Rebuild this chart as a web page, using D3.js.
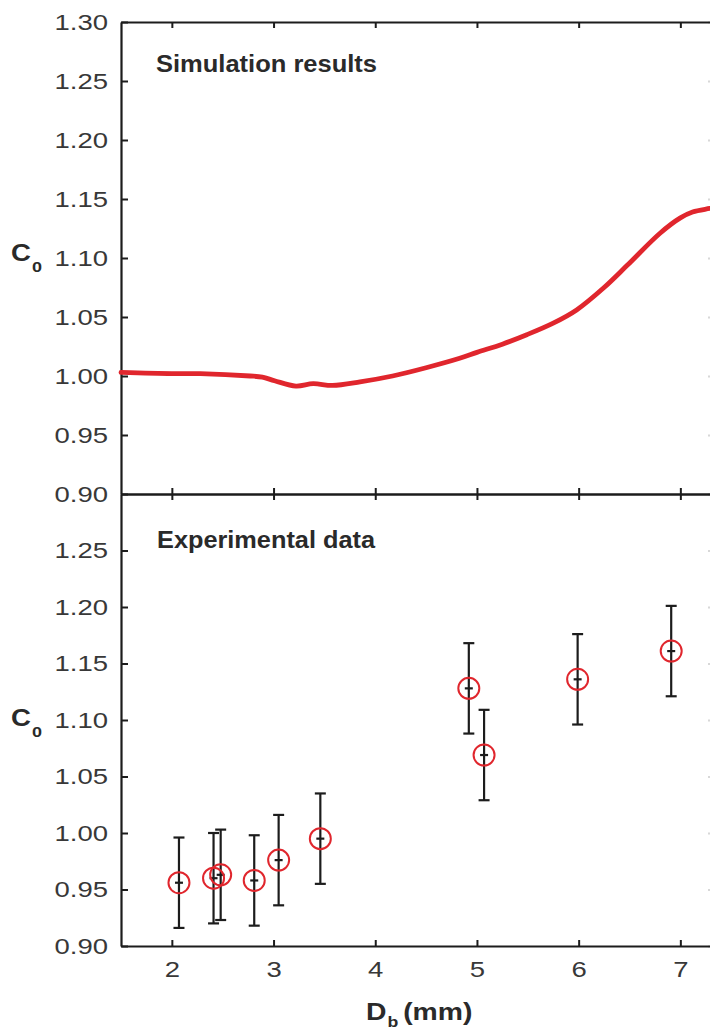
<!DOCTYPE html>
<html><head><meta charset="utf-8">
<script src="https://cdn.jsdelivr.net/npm/d3@7"></script>
<style>body{margin:0;background:#fff} svg{display:block}</style>
</head><body><svg id="c" width="710" height="1031"></svg>
<script>
// ---- data ----
const xTicks = [2, 3, 4, 5, 6, 7];
const yTicksTop = [0.90, 0.95, 1.00, 1.05, 1.10, 1.15, 1.20, 1.25, 1.30];
const yTicksBottom = [0.90, 0.95, 1.00, 1.05, 1.10, 1.15, 1.20, 1.25];
const simD = [1.5, 2.0, 2.28, 2.77, 2.89, 3.01, 3.22, 3.39, 3.58, 3.85, 4.17, 4.5, 4.83, 5.0, 5.25, 5.49, 5.75, 5.98, 6.25, 6.48, 6.80, 7.00, 7.12, 7.29, 7.5];
const simC = [1.003, 1.002, 1.002, 1.000, 0.999, 0.996, 0.9915, 0.9935, 0.992, 0.995, 1.000, 1.007, 1.015, 1.020, 1.027, 1.035, 1.0448, 1.056, 1.075, 1.094, 1.121, 1.134, 1.139, 1.142, 1.145];
const expD = [2.07, 2.41, 2.48, 2.81, 3.05, 3.46, 4.92, 5.07, 5.99, 6.91];
const expC = [0.956, 0.960, 0.963, 0.958, 0.976, 0.995, 1.128, 1.069, 1.136, 1.161];
const expErr = [0.040, 0.040, 0.040, 0.040, 0.040, 0.040, 0.040, 0.040, 0.040, 0.040];

// ---- layout ----
const svg = d3.select("#c");
const FONT = "'Liberation Sans', Arial, Helvetica, sans-serif";
const AX = "#1c1c1c", TXT = "#2a2a2a", RED = "#e0262d";
const SX = 1.25; // horizontal stretch of tick labels

const x = d3.scaleLinear().domain([1.5, 7.5]).range([121, 731.2]);
const yTop = d3.scaleLinear().domain([0.90, 1.30]).range([494, 22]);
const yBot = d3.scaleLinear().domain([0.90, 1.30]).range([946, 494]);

function styleAxis(g) {
  g.select(".domain").attr("stroke", AX).attr("stroke-width", 2.2);
  g.selectAll(".tick line").attr("stroke", AX).attr("stroke-width", 2);
  g.selectAll("text").attr("fill", "#383838").attr("font-family", FONT).attr("font-size", 22);
}

// left axes
const fmt = d3.format(".2f");
[[yTop, yTicksTop], [yBot, yTicksBottom]].forEach(([ys, tv]) => {
  const g = svg.append("g").attr("transform", "translate(121,0)")
    .call(d3.axisLeft(ys).tickValues(tv).tickFormat(fmt).tickSize(-7).tickSizeOuter(0));
  styleAxis(g);
  g.selectAll(".tick text").attr("x", null).attr("transform", `translate(-13,0) scale(${SX},1)`);
});

// right axes (mostly outside the frame)
[[yTop, yTicksTop], [yBot, yTicksBottom]].forEach(([ys, tv]) => {
  const g = svg.append("g").attr("transform", "translate(716,0)")
    .call(d3.axisRight(ys).tickValues(tv).tickFormat("").tickSize(-8).tickSizeOuter(0));
  styleAxis(g);
  g.selectAll(".tick line").attr("stroke", "#d8d8d8");
});

// top axis
{
  const g = svg.append("g").attr("transform", "translate(0,22)")
    .call(d3.axisBottom(x).tickValues(xTicks).tickFormat("").tickSize(6).tickSizeOuter(0));
  styleAxis(g);
}
// middle axis (ticks both sides)
{
  const g1 = svg.append("g").attr("transform", "translate(0,494)")
    .call(d3.axisBottom(x).tickValues(xTicks).tickFormat("").tickSize(6).tickSizeOuter(0));
  styleAxis(g1);
  const g2 = svg.append("g").attr("transform", "translate(0,494)")
    .call(d3.axisTop(x).tickValues(xTicks).tickFormat("").tickSize(6).tickSizeOuter(0));
  styleAxis(g2);
}
// bottom axis
{
  const g = svg.append("g").attr("transform", "translate(0,946)")
    .call(d3.axisBottom(x).tickValues(xTicks).tickFormat(d3.format("d")).tickSize(-6).tickSizeOuter(0));
  styleAxis(g);
  g.selectAll(".tick text").attr("y", null).attr("transform", `translate(0,15.5) scale(${SX},1)`);
}

// simulation curve
const simData = simD.map((d, i) => [d, simC[i]]);
svg.append("path").datum(simData)
  .attr("d", d3.line().x(d => x(d[0])).y(d => yTop(d[1])).curve(d3.curveCatmullRom.alpha(0.5)))
  .attr("fill", "none").attr("stroke", RED).attr("stroke-width", 4.8).attr("stroke-linecap", "round");

// experimental points
const expData = expD.map((d, i) => ({ d, c: expC[i], e: expErr[i] }));
const pg = svg.append("g");
pg.selectAll(".eb").data(expData).join("line")
  .attr("x1", p => x(p.d)).attr("x2", p => x(p.d))
  .attr("y1", p => yBot(p.c + p.e)).attr("y2", p => yBot(p.c - p.e))
  .attr("stroke", AX).attr("stroke-width", 2.2);
["top", "bot", "mid"].forEach(k => {
  pg.append("g").selectAll("line").data(expData).join("line")
    .attr("x1", p => x(p.d) - (k === "mid" ? 4 : 5.5)).attr("x2", p => x(p.d) + (k === "mid" ? 4 : 5.5))
    .attr("y1", p => yBot(k === "top" ? p.c + p.e : k === "bot" ? p.c - p.e : p.c))
    .attr("y2", p => yBot(k === "top" ? p.c + p.e : k === "bot" ? p.c - p.e : p.c))
    .attr("stroke", AX).attr("stroke-width", 2.2);
});
pg.append("g").selectAll("circle").data(expData).join("circle")
  .attr("cx", p => x(p.d)).attr("cy", p => yBot(p.c)).attr("r", 10.5)
  .attr("fill", "none").attr("stroke", RED).attr("stroke-width", 2);

// texts
function label(xp, yp, s, size) {
  return svg.append("text").attr("x", xp).attr("y", yp).attr("font-family", FONT)
    .attr("font-weight", "bold").attr("font-size", size).attr("fill", TXT).text(s);
}
label(156, 72, "Simulation results", 23).attr("textLength", 221).attr("lengthAdjust", "spacingAndGlyphs");
label(157, 548, "Experimental data", 23).attr("textLength", 218).attr("lengthAdjust", "spacingAndGlyphs");

function c0(yb) {
  const t = svg.append("text").attr("transform", `translate(11,${yb}) scale(1.2,1)`)
    .attr("font-family", FONT).attr("font-weight", "bold").attr("fill", TXT);
  t.append("tspan").attr("font-size", 23).text("C");
  t.append("tspan").attr("font-size", 15).attr("dy", 11).attr("dx", 1).text("0");
}
c0(261);
c0(726);

{
  const t = svg.append("text").attr("transform", "translate(366,1020) scale(1.18,1)")
    .attr("font-family", FONT).attr("font-weight", "bold").attr("fill", TXT);
  t.append("tspan").attr("font-size", 24).text("D");
  t.append("tspan").attr("font-size", 15).attr("dy", 7).attr("dx", 1).text("b");
  t.append("tspan").attr("font-size", 24).attr("dy", -7).attr("dx", 4).text("(mm)");
}
</script>
</body></html>
